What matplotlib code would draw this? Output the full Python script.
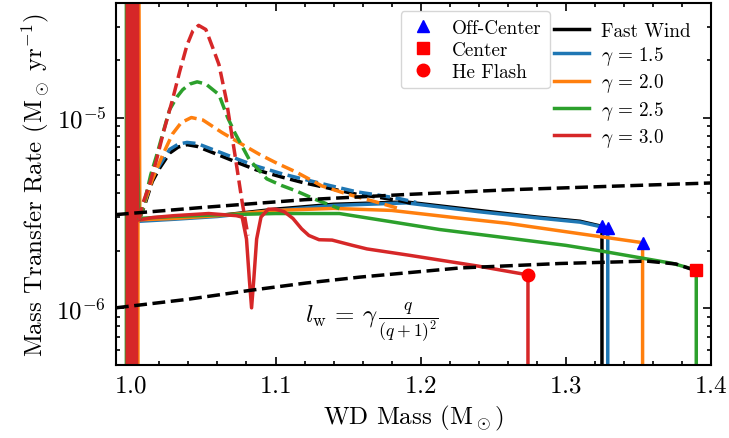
import numpy as np
import matplotlib
matplotlib.use("Agg")
import matplotlib.pyplot as plt
from matplotlib.lines import Line2D
from matplotlib.ticker import NullFormatter, LogLocator, MultipleLocator

plt.rcParams['font.family'] = 'serif'
plt.rcParams['font.serif'] = ['cmr10', 'DejaVu Serif']
plt.rcParams['mathtext.fontset'] = 'cm'
plt.rcParams['axes.formatter.use_mathtext'] = True

# upper / lower black dashed limits
upper_x = [0.99, 1.05, 1.12, 1.19, 1.26, 1.33, 1.40]
upper_y = [3.09e-6, 3.37e-6, 3.70e-6, 3.94e-6, 4.17e-6, 4.35e-6, 4.53e-6]
lower_x = [0.99, 1.04, 1.084, 1.121, 1.158, 1.227, 1.296, 1.356, 1.376, 1.394]
lower_y = [1.0e-6, 1.11e-6, 1.24e-6, 1.35e-6, 1.45e-6, 1.62e-6, 1.71e-6, 1.76e-6, 1.70e-6, 1.53e-6]

# dashed (wind) curves
fw_d_x = [1.006, 1.010, 1.015, 1.020, 1.027, 1.033, 1.039, 1.046, 1.061, 1.075, 1.087,
          1.105, 1.119, 1.137, 1.156, 1.172, 1.186, 1.197]
fw_d_y = [2.9e-6, 3.5e-6, 4.6e-6, 5.4e-6, 6.5e-6, 7.0e-6, 7.2e-6, 7.05e-6, 6.35e-6, 5.75e-6,
          5.3e-6, 4.85e-6, 4.55e-6, 4.25e-6, 3.95e-6, 3.8e-6, 3.65e-6, 3.5e-6]
g15_d_x = [1.006, 1.010, 1.015, 1.020, 1.027, 1.033, 1.039, 1.046, 1.061, 1.075, 1.087,
           1.105, 1.119, 1.137, 1.156, 1.172, 1.186, 1.197]
g15_d_y = [2.9e-6, 3.6e-6, 4.8e-6, 5.6e-6, 6.8e-6, 7.25e-6, 7.4e-6, 7.3e-6, 6.6e-6, 6.0e-6,
           5.55e-6, 5.05e-6, 4.75e-6, 4.4e-6, 4.07e-6, 3.9e-6, 3.74e-6, 3.58e-6]
g20_d_x = [1.006, 1.010, 1.015, 1.022, 1.029, 1.035, 1.042, 1.050, 1.063, 1.076, 1.089,
           1.101, 1.114, 1.132, 1.150, 1.167, 1.186]
g20_d_y = [2.9e-6, 3.6e-6, 4.7e-6, 6.3e-6, 8.2e-6, 9.4e-6, 1.0e-5, 9.7e-6, 8.35e-6, 7.3e-6,
           6.4e-6, 5.75e-6, 5.18e-6, 4.37e-6, 3.95e-6, 3.64e-6, 3.31e-6]
g25_d_x = [1.006, 1.010, 1.014, 1.018, 1.023, 1.027, 1.032, 1.036, 1.041, 1.046, 1.052,
           1.061, 1.067, 1.072, 1.082, 1.094, 1.104, 1.114, 1.128, 1.144]
g25_d_y = [2.9e-6, 3.7e-6, 5.0e-6, 6.3e-6, 8.6e-6, 1.1e-5, 1.28e-5, 1.4e-5, 1.5e-5, 1.54e-5,
           1.5e-5, 1.32e-5, 1.0e-5, 8.3e-6, 6.0e-6, 4.76e-6, 4.4e-6, 4.12e-6, 3.7e-6, 3.32e-6]
g30_d_x = [1.006, 1.008, 1.013, 1.018, 1.023, 1.029, 1.034, 1.039, 1.043, 1.047, 1.052,
           1.057, 1.061, 1.066, 1.072, 1.077, 1.081]
g30_d_y = [2.9e-6, 3.45e-6, 4.4e-6, 6.0e-6, 8.5e-6, 1.24e-5, 1.75e-5, 2.4e-5, 2.85e-5, 3.05e-5,
           2.9e-5, 2.3e-5, 1.9e-5, 1.25e-5, 6.4e-6, 3.6e-6, 2.4e-6]

# solid (mass transfer) curves
fw_x = [1.0, 1.0, 1.006, 1.03, 1.06, 1.10, 1.14, 1.19, 1.24, 1.28, 1.31, 1.325, 1.325]
fw_y = [1e-8, 1e-3, 2.9e-6, 2.95e-6, 3.05e-6, 3.3e-6, 3.5e-6, 3.6e-6, 3.25e-6, 3.0e-6,
        2.85e-6, 2.68e-6, 1e-8]
g15_x = [1.0, 1.0, 1.006, 1.03, 1.06, 1.10, 1.14, 1.19, 1.24, 1.28, 1.31, 1.329, 1.329]
g15_y = [1e-8, 1e-3, 2.85e-6, 2.92e-6, 3.02e-6, 3.25e-6, 3.45e-6, 3.56e-6, 3.2e-6, 2.97e-6,
         2.82e-6, 2.62e-6, 1e-8]
g20_x = [1.0052, 1.0052, 1.0065, 1.03, 1.06, 1.10, 1.14, 1.18, 1.225, 1.26, 1.31, 1.353, 1.353]
g20_y = [1e-8, 1e-3, 2.9e-6, 2.95e-6, 3.05e-6, 3.25e-6, 3.33e-6, 3.25e-6, 2.97e-6, 2.78e-6,
         2.45e-6, 2.2e-6, 1e-8]
g25_x = [0.9972, 0.9972, 1.006, 1.03, 1.06, 1.10, 1.144, 1.179, 1.213, 1.25, 1.30, 1.326,
         1.374, 1.39, 1.39]
g25_y = [1e-8, 1e-3, 2.95e-6, 3.02e-6, 3.08e-6, 3.13e-6, 3.13e-6, 2.84e-6, 2.58e-6, 2.38e-6,
         2.13e-6, 1.98e-6, 1.71e-6, 1.58e-6, 1e-8]
g30_x = [0.9978, 0.9978, 0.9986, 0.9986, 0.9994, 0.9994, 1.0002, 1.0002, 1.0010, 1.0010,
         1.0018, 1.0018, 1.0026, 1.0026, 1.0034, 1.0034, 1.0042, 1.0042, 1.0050, 1.0050,
         1.0065, 1.015, 1.03, 1.054, 1.073, 1.077, 1.080, 1.082, 1.0835, 1.085, 1.087,
         1.090, 1.095, 1.100, 1.106, 1.112, 1.118, 1.123, 1.130, 1.139, 1.153, 1.163,
         1.192, 1.239, 1.274, 1.274]
g30_y = [1e-8, 1e-3, 1e-3, 1e-8, 1e-8, 1e-3, 1e-3, 1e-8, 1e-8, 1e-3,
         1e-3, 1e-8, 1e-8, 1e-3, 1e-3, 1e-8, 1e-8, 1e-3, 1e-3, 2.9e-6,
         2.9e-6, 2.98e-6, 3.05e-6, 3.13e-6, 3.05e-6, 3.0e-6, 2.3e-6, 1.4e-6, 1.0e-6, 1.4e-6,
         2.3e-6, 3.0e-6, 3.3e-6, 3.3e-6, 3.2e-6, 2.95e-6, 2.6e-6, 2.4e-6, 2.28e-6, 2.27e-6,
         2.13e-6, 2.04e-6, 1.89e-6, 1.66e-6, 1.49e-6, 1e-8]

# end-point markers
offc_x = [1.325, 1.329, 1.353]
offc_y = [2.68e-6, 2.62e-6, 2.2e-6]
center_x = [1.39]
center_y = [1.58e-6]
flash_x = [1.274]
flash_y = [1.49e-6]

labels = ['Fast Wind', r'$\gamma\,=\,1.5$', r'$\gamma\,=\,2.0$', r'$\gamma\,=\,2.5$',
          r'$\gamma\,=\,3.0$']
colors = ['black', 'C0', 'C1', 'C2', 'C3']

fig = plt.figure(figsize=(7.29, 4.39), dpi=100)
ax = fig.add_axes([0.159, 0.166, 0.816, 0.825])

lw = 2.5
solid = [(fw_x, fw_y), (g15_x, g15_y), (g20_x, g20_y), (g25_x, g25_y), (g30_x, g30_y)]
dashed = [(fw_d_x, fw_d_y), (g15_d_x, g15_d_y), (g20_d_x, g20_d_y), (g25_d_x, g25_d_y),
          (g30_d_x, g30_d_y)]

for (x, y), c, lab in zip(solid, colors, labels):
    ax.plot(x, y, color=c, lw=lw, label=lab)
for (x, y), c in zip(dashed, colors):
    ax.plot(x, y, color=c, lw=lw, ls='--')

ax.plot(upper_x, upper_y, color='black', lw=lw, ls='--', zorder=3)
ax.plot(lower_x, lower_y, color='black', lw=lw, ls='--', zorder=3)

ax.plot(offc_x, offc_y, ls='none', marker='^', color='blue', ms=9, zorder=5)
ax.plot(center_x, center_y, ls='none', marker='s', color='red', ms=9, zorder=5)
ax.plot(flash_x, flash_y, ls='none', marker='o', color='red', ms=9, zorder=5)

ax.set_yscale('log')
ax.set_xlim(0.99, 1.4)
ax.set_ylim(5e-7, 4e-5)
ax.xaxis.set_major_locator(MultipleLocator(0.1))
ax.xaxis.set_minor_locator(MultipleLocator(0.02))
ax.yaxis.set_minor_locator(LogLocator(base=10, subs=np.arange(2, 10)))
ax.yaxis.set_minor_formatter(NullFormatter())

ax.tick_params(which='both', direction='in', top=True, right=True, labelsize=18, width=1.2)
ax.tick_params(which='major', length=5.5, pad=7)
ax.tick_params(which='minor', length=3)
for s in ax.spines.values():
    s.set_linewidth(1.5)

ax.set_xlabel(r'WD Mass ($\mathrm{M_\odot}$)', fontsize=18)
ax.set_ylabel(r'Mass Transfer Rate ($\mathrm{M_\odot\ yr^{-1}}$)', fontsize=18)

ax.text(0.318, 0.12, r'$l_\mathrm{w}\,=\,\gamma\,\frac{q}{(q+1)^2}$', transform=ax.transAxes,
        fontsize=18, ha='left', va='center')

mk = [Line2D([], [], ls='none', marker='^', color='blue', ms=9, label='Off-Center'),
      Line2D([], [], ls='none', marker='s', color='red', ms=9, label='Center'),
      Line2D([], [], ls='none', marker='o', color='red', ms=9, label='He Flash')]
leg1 = ax.legend(handles=mk, loc='upper right', bbox_to_anchor=(0.729, 0.978),
                 borderaxespad=0, fontsize=13.8, handlelength=1.5, labelspacing=0.22)
ax.add_artist(leg1)
ax.legend(loc='upper right', bbox_to_anchor=(0.995, 0.995), frameon=False, fontsize=13.8,
          handlelength=1.85, handletextpad=0.6, labelspacing=0.22)

plt.savefig('out.png', dpi=100)
